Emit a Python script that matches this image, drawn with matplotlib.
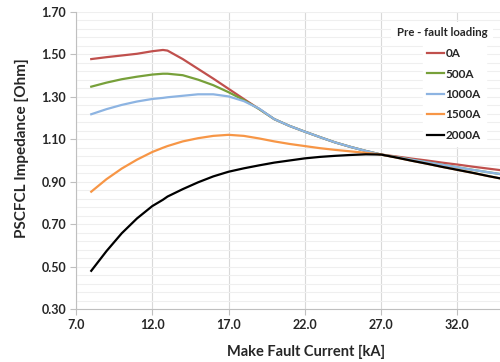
import matplotlib
matplotlib.use("Agg")
import matplotlib.pyplot as plt
import numpy as np

plt.rcParams['font.family'] = ['Lato', 'DejaVu Sans']
plt.rcParams['font.weight'] = 'bold'

current_ka = [8, 9, 10, 11, 12, 12.7, 13, 14, 15, 16, 17, 18, 19, 20, 21, 22,
              23, 24, 25, 26, 27, 28, 29, 30, 31, 32, 33, 34, 35]

load_0a = [1.478, 1.487, 1.495, 1.503, 1.515, 1.521, 1.518, 1.478, 1.432, 1.386,
           1.338, 1.290, 1.243, 1.195, 1.163, 1.136, 1.110, 1.085, 1.064, 1.045,
           1.028, 1.019, 1.009, 1.000, 0.990, 0.981, 0.971, 0.962, 0.953]
load_500a = [1.348, 1.367, 1.383, 1.395, 1.405, 1.409, 1.409, 1.402, 1.381, 1.355,
             1.322, 1.285, 1.243, 1.195, 1.163, 1.136, 1.110, 1.085, 1.064, 1.045,
             1.028, 1.016, 1.004, 0.992, 0.980, 0.968, 0.956, 0.945, 0.934]
load_1000a = [1.218, 1.242, 1.262, 1.278, 1.290, 1.295, 1.298, 1.305, 1.312, 1.312,
              1.302, 1.280, 1.245, 1.195, 1.163, 1.136, 1.110, 1.085, 1.064, 1.045,
              1.028, 1.016, 1.004, 0.992, 0.980, 0.968, 0.956, 0.945, 0.934]
load_1500a = [0.853, 0.912, 0.962, 1.004, 1.040, 1.060, 1.068, 1.090, 1.105, 1.116,
              1.121, 1.116, 1.104, 1.090, 1.078, 1.068, 1.058, 1.050, 1.043, 1.036,
              1.028, 1.014, 0.999, 0.985, 0.970, 0.956, 0.942, 0.927, 0.913]
load_2000a = [0.480, 0.573, 0.657, 0.727, 0.785, 0.815, 0.830, 0.865, 0.897, 0.925,
              0.947, 0.963, 0.977, 0.990, 1.000, 1.010, 1.017, 1.022, 1.026, 1.029,
              1.028, 1.014, 0.999, 0.985, 0.970, 0.956, 0.942, 0.927, 0.913]

x_ticks = [7, 12, 17, 22, 27, 32]
y_ticks = [0.30, 0.50, 0.70, 0.90, 1.10, 1.30, 1.50, 1.70]

series = [
    ("0A", load_0a, "#C0504D"),
    ("500A", load_500a, "#77A03A"),
    ("1000A", load_1000a, "#8DB4E2"),
    ("1500A", load_1500a, "#F79646"),
    ("2000A", load_2000a, "#000000"),
]

fig = plt.figure(figsize=(5.0, 3.62), dpi=100)
ax = fig.add_axes([0.152, 0.1464, 0.848, 0.8205])

for label, values, color in series:
    ax.plot(current_ka, values, color=color, linewidth=1.6, label=label)

ax.set_xlim(7, 34.8)
ax.set_ylim(0.30, 1.70)
ax.set_xticks(x_ticks)
ax.set_xticklabels([f"{v:.1f}" for v in x_ticks])
ax.set_yticks(y_ticks)
ax.set_yticklabels([f"{v:.2f}" for v in y_ticks])
ax.set_yticks(np.arange(0.30, 1.70, 0.04), minor=True)

ax.grid(True, axis='x', which='major', color='#D9D9D9', linewidth=0.8)
ax.grid(True, axis='y', which='both', color='#EFEFEF', linewidth=0.8)
ax.set_axisbelow(True)

for side in ['top', 'right']:
    ax.spines[side].set_visible(False)
for side in ['left', 'bottom']:
    ax.spines[side].set_color('#BFBFBF')
ax.tick_params(axis='both', which='major', length=4, color='#BFBFBF',
               labelsize=9, labelcolor='#262626', pad=3)
ax.tick_params(axis='y', which='minor', length=0)

fig.text(0.612, 0.028, "Make Fault Current [kA]", ha='center', va='center',
         fontsize=10.5, fontweight='bold', color='#262626')
fig.text(0.044, 0.59, "PSCFCL Impedance [Ohm]", ha='center', va='center',
         rotation=90, fontsize=11, fontweight='bold', color='#262626')

# заголовок легенды отдельным текстом
fig.text(0.884, 1 - 33 / 362, "Pre - fault loading", ha='center', va='center',
         fontsize=8.2, fontweight='bold', color='#262626',
         bbox=dict(facecolor='white', edgecolor='none', pad=4))

leg = ax.legend(loc='upper left', bbox_to_anchor=(0.845, 0.880),
                bbox_transform=fig.transFigure,
                fontsize=8.5, frameon=True, fancybox=False,
                handlelength=1.45, handletextpad=0.1, labelspacing=0.8,
                borderpad=0.4, borderaxespad=0)
leg.get_frame().set_facecolor('white')
leg.get_frame().set_edgecolor('white')
leg.get_frame().set_alpha(1.0)
for t in leg.get_texts():
    t.set_fontweight('bold')
    t.set_color('#262626')

fig.savefig("out.png", dpi=100)
